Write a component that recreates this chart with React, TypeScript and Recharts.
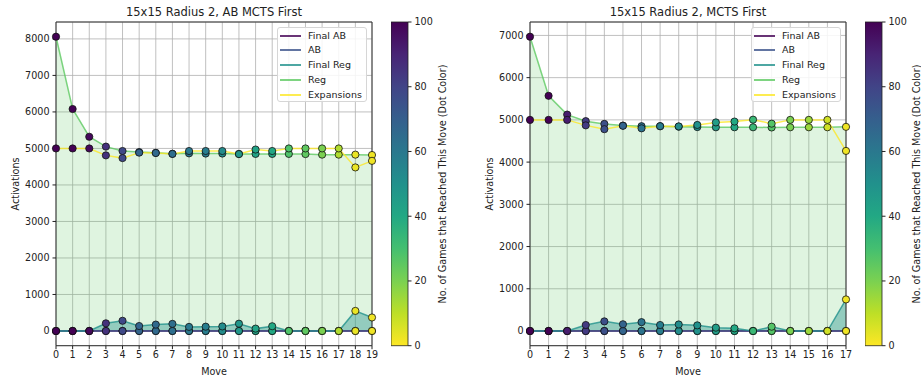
import React from 'react';
import { ComposedChart, Area, Line, XAxis, YAxis, CartesianGrid, ReferenceArea, BarChart, Bar } from 'recharts';

// left panel: AB MCTS First
const leftMoves = [0, 1, 2, 3, 4, 5, 6, 7, 8, 9, 10, 11, 12, 13, 14, 15, 16, 17, 18, 19];
const leftFinalAB = [0, 0, 0, 0, 0, 0, 0, 0, 0, 0, 0, 0, 0, 0, 0, 0, 0, 0, 0, 0];
const leftAB = [0, 0, 0, 0, 0, 0, 0, 0, 0, 0, 0, 0, 0, 0, 0, 0, 0, 0, 0, 0];
const leftFinalReg = [0, 0, 0, 210, 280, 136, 175, 195, 112, 118, 125, 200, 65, 130, 0, 0, 0, 0, 550, 370];
const leftReg = [8060, 6080, 5320, 5050, 4930, 4900, 4880, 4855, 4865, 4860, 4860, 4850, 4850, 4850, 4850, 4845, 4830, 4830, 4830, 4820];
const leftExpansions = [5000, 5000, 5000, 4810, 4735, 4885, 4875, 4850, 4930, 4930, 4930, 4845, 4970, 4930, 5000, 5000, 5000, 5000, 4480, 4660];
const leftGames = [100, 100, 98, 86, 78, 68, 66, 64, 60, 58, 52, 48, 42, 40, 28, 25, 20, 12, 3, 2];
const leftYTicks = [0, 1000, 2000, 3000, 4000, 5000, 6000, 7000, 8000];

// right panel: MCTS First
const rightMoves = [0, 1, 2, 3, 4, 5, 6, 7, 8, 9, 10, 11, 12, 13, 14, 15, 16, 17];
const rightFinalAB = [0, 0, 0, 0, 0, 0, 0, 0, 0, 0, 0, 0, 0, 0, 0, 0, 0, 0];
const rightAB = [0, 0, 0, 0, 0, 0, 0, 0, 0, 0, 0, 0, 0, 0, 0, 0, 0, 0];
const rightFinalReg = [0, 0, 0, 142, 228, 160, 210, 142, 155, 134, 79, 63, 0, 102, 0, 0, 0, 748];
const rightReg = [6970, 5570, 5125, 4970, 4905, 4865, 4850, 4850, 4840, 4830, 4825, 4825, 4825, 4820, 4825, 4825, 4825, 4835];
const rightExpansions = [5000, 5000, 5000, 4870, 4780, 4860, 4800, 4850, 4845, 4880, 4940, 4960, 5005, 4910, 5000, 5000, 5000, 4265];
const rightGames = [100, 100, 92, 83, 76, 68, 62, 58, 52, 50, 45, 40, 33, 27, 20, 15, 7, 2];
const rightYTicks = [0, 1000, 2000, 3000, 4000, 5000, 6000, 7000];

const colorbarTicks = [0, 20, 40, 60, 80, 100];

const VIRIDIS = ['#440154', '#482475', '#414487', '#355f8d', '#2a788e', '#21918c', '#22a884', '#44bf70', '#7ad151', '#bddf26', '#fde725'];

const FONT = '"DejaVu Sans", sans-serif';
const TEXT = '#222';

const SERIES = [
  { key: 'finalAB', name: 'Final AB', color: '#440154' },
  { key: 'ab', name: 'AB', color: '#3b528b' },
  { key: 'finalReg', name: 'Final Reg', color: '#21918c' },
  { key: 'reg', name: 'Reg', color: '#5ec962' },
  { key: 'exp', name: 'Expansions', color: '#fde725' },
];

const hex = (h: string) => [1, 3, 5].map(i => parseInt(h.slice(i, i + 2), 16));

function viridis(t: number) {
  const s = Math.max(0, Math.min(1, t)) * 10;
  const i = Math.min(9, Math.floor(s));
  const f = s - i;
  const a = hex(VIRIDIS[i]);
  const b = hex(VIRIDIS[i + 1]);
  const c = a.map((v, k) => Math.round(v + (b[k] - v) * f));
  return `rgb(${c[0]},${c[1]},${c[2]})`;
}

const gameDot = (tag: string) => (p: any) => (
  <circle
    key={`${tag}-${p.index}`}
    cx={p.cx}
    cy={p.cy}
    r={3.6}
    fill={viridis(1 - p.payload.games / 100)}
    stroke="#111"
    strokeWidth={0.8}
  />
);

interface PanelProps {
  ox: number;
  title: string;
  moves: number[];
  finalAB: number[];
  ab: number[];
  finalReg: number[];
  reg: number[];
  exp: number[];
  games: number[];
  domain: [number, number];
  yTicks: number[];
  gradId: string;
}

const Panel: React.FC<PanelProps> = ({ ox, title, moves, finalAB, ab, finalReg, reg, exp, games, domain, yTicks, gradId }) => {
  const data = moves.map((m, i) => ({
    move: m,
    finalAB: finalAB[i],
    ab: ab[i],
    finalReg: finalReg[i],
    reg: reg[i],
    exp: exp[i],
    games: games[i],
  }));
  const lastMove = moves[moves.length - 1];
  const tick = { fontSize: 9.6, fontFamily: FONT, fill: TEXT };

  return (
    <div style={{ position: 'absolute', left: ox, top: 0, width: 474, height: 381 }}>
      <div style={{ position: 'absolute', left: 214, top: 12, transform: 'translate(-50%,-50%)', whiteSpace: 'nowrap', fontSize: 11.5, fontFamily: FONT, color: TEXT }}>
        {title}
      </div>
      <div style={{ position: 'absolute', left: 14.5, top: 184, transform: 'translate(-50%,-50%) rotate(-90deg)', whiteSpace: 'nowrap', fontSize: 9.6, fontFamily: FONT, color: TEXT }}>
        Activations
      </div>
      <div style={{ position: 'absolute', left: 214, top: 371, transform: 'translate(-50%,-50%)', whiteSpace: 'nowrap', fontSize: 9.6, fontFamily: FONT, color: TEXT }}>
        Move
      </div>

      <div style={{ position: 'absolute', left: 0, top: 0 }}>
        <ComposedChart width={460} height={381} data={data} margin={{ top: 22, right: 88, bottom: 10.3, left: 16 }}>
          <CartesianGrid stroke="#b0b0b0" strokeWidth={0.8} />
          <XAxis
            dataKey="move"
            type="number"
            domain={[0, lastMove]}
            ticks={moves}
            interval={0}
            height={25}
            tick={tick}
            tickSize={3.5}
            tickMargin={2}
            axisLine={false}
            tickLine={{ stroke: TEXT }}
          />
          <YAxis
            type="number"
            domain={domain}
            ticks={yTicks}
            interval={0}
            width={40}
            tick={tick}
            tickSize={3.5}
            tickMargin={3}
            axisLine={false}
            tickLine={{ stroke: TEXT }}
          />
          <Area dataKey="reg" type="linear" baseValue={0} stroke="none" fill="#5ec962" fillOpacity={0.2} isAnimationActive={false} dot={false} activeDot={false} />
          <Area dataKey="finalReg" type="linear" baseValue={0} stroke="none" fill="#21918c" fillOpacity={0.4} isAnimationActive={false} dot={false} activeDot={false} />
          <ReferenceArea x1={0} x2={lastMove} y1={domain[0]} y2={domain[1]} fill="none" stroke="#333" strokeWidth={1} />
          {SERIES.map(s => (
            <Line key={s.key} dataKey={s.key} type="linear" stroke={s.color} strokeOpacity={0.8} strokeWidth={1.5} dot={false} activeDot={false} isAnimationActive={false} />
          ))}
          {SERIES.map(s => (
            <Line key={`d-${s.key}`} dataKey={s.key} type="linear" stroke="none" dot={gameDot(s.key)} activeDot={false} legendType="none" isAnimationActive={false} />
          ))}
        </ComposedChart>
      </div>

      <div style={{ position: 'absolute', left: 277, top: 27, width: 90, height: 75, boxSizing: 'border-box', background: 'rgba(255,255,255,0.85)', border: '1px solid #d6d6d6', borderRadius: 3 }}>
        {SERIES.map((s, i) => (
          <div key={s.key} style={{ position: 'absolute', left: 0, top: 0.7 + i * 14.75, height: 14, width: 88 }}>
            <div style={{ position: 'absolute', left: 2, top: 6, width: 21, height: 2, background: s.color, opacity: 0.8 }} />
            <div style={{ position: 'absolute', left: 30, top: 0, lineHeight: '14px', fontSize: 9.5, fontFamily: FONT, color: TEXT, whiteSpace: 'nowrap' }}>
              {s.name}
            </div>
          </div>
        ))}
      </div>

      <div style={{ position: 'absolute', left: 391, top: 0 }}>
        <BarChart width={60} height={381} data={[{ name: 'cb', v: 100 }]} margin={{ top: 22, right: 13, bottom: 35.3, left: 0 }} barCategoryGap={0}>
          <defs>
            <linearGradient id={gradId} x1="0" y1="0" x2="0" y2="1">
              {VIRIDIS.map((c, i) => (
                <stop key={c} offset={`${i * 10}%`} stopColor={c} />
              ))}
            </linearGradient>
          </defs>
          <XAxis dataKey="name" hide />
          <YAxis
            orientation="right"
            type="number"
            domain={[0, 100]}
            ticks={colorbarTicks}
            interval={0}
            width={30}
            tick={tick}
            tickSize={3.5}
            tickMargin={3}
            axisLine={false}
            tickLine={{ stroke: TEXT }}
          />
          <Bar dataKey="v" fill={`url(#${gradId})`} stroke="#222" strokeWidth={0.8} isAnimationActive={false} />
        </BarChart>
      </div>
      <div style={{ position: 'absolute', left: 441.5, top: 184, transform: 'translate(-50%,-50%) rotate(-90deg)', whiteSpace: 'nowrap', fontSize: 9.6, fontFamily: FONT, color: TEXT }}>
        No. of Games that Reached This Move (Dot Color)
      </div>
    </div>
  );
};

export default function App() {
  return (
    <div style={{ position: 'absolute', left: 0, top: 0, width: 921, height: 381, background: '#fff', overflow: 'hidden' }}>
      <Panel
        ox={0}
        title="15x15 Radius 2, AB MCTS First"
        moves={leftMoves}
        finalAB={leftFinalAB}
        ab={leftAB}
        finalReg={leftFinalReg}
        reg={leftReg}
        exp={leftExpansions}
        games={leftGames}
        domain={[-403, 8463]}
        yTicks={leftYTicks}
        gradId="cbLeft"
      />
      <Panel
        ox={474}
        title="15x15 Radius 2, MCTS First"
        moves={rightMoves}
        finalAB={rightFinalAB}
        ab={rightAB}
        finalReg={rightFinalReg}
        reg={rightReg}
        exp={rightExpansions}
        games={rightGames}
        domain={[-348, 7318]}
        yTicks={rightYTicks}
        gradId="cbRight"
      />
    </div>
  );
}
